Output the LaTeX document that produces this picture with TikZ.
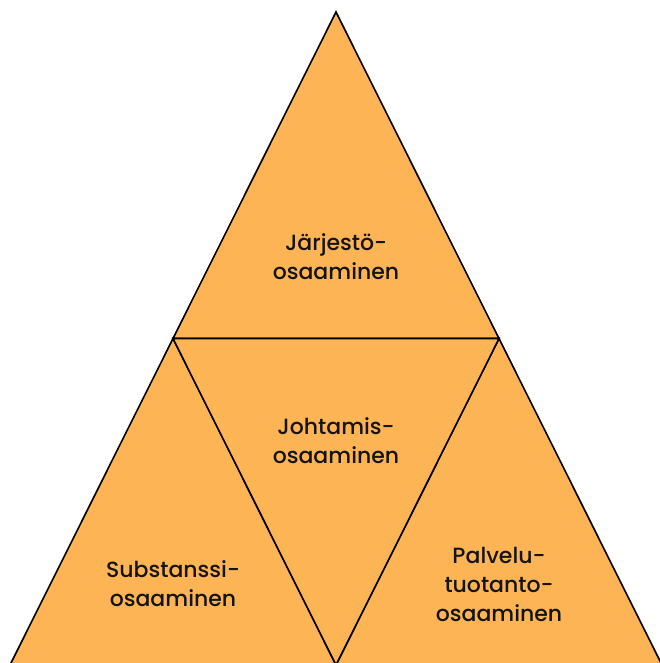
\documentclass[tikz,border=0pt]{standalone}
\usepackage{fontspec}
\setmainfont{Poppins}[UprightFont=* Medium]
\definecolor{tri}{RGB}{253,180,85}
\definecolor{txt}{RGB}{20,20,20}
\begin{document}
\begin{tikzpicture}[x=1pt,y=-1pt,
  face/.style={fill=tri,draw=black,line width=1.6pt,line join=miter},
  lab/.style={align=center,font=\fontsize{22}{29}\selectfont,text=txt,inner sep=0pt}]
\useasboundingbox (0,0) rectangle (660,663);
\fill[white] (0,0) rectangle (660,663);
\coordinate (A) at (336,12);
\coordinate (L) at (10,665);
\coordinate (R) at (662,665);
\coordinate (M) at (336,665);
\coordinate (ML) at (173,338.5);
\coordinate (MR) at (499,338.5);
\begin{scope}
\clip (0,0) rectangle (660,663);
\path[face] (A) -- (MR) -- (ML) -- cycle;
\path[face] (ML) -- (M) -- (L) -- cycle;
\path[face] (MR) -- (R) -- (M) -- cycle;
\path[face] (ML) -- (MR) -- (M) -- cycle;
\end{scope}
\node[lab] (t1) at (336,257) {Järjestö-\\osaaminen};
\node[lab] (t2) at (336,441) {Johtamis-\\osaaminen};
\node[lab] (t3) at (173,584) {Substanssi-\\osaaminen};
\node[lab] (t4) at (499,584) {Palvelu-\\tuotanto-\\osaaminen};
\end{tikzpicture}
\end{document}
